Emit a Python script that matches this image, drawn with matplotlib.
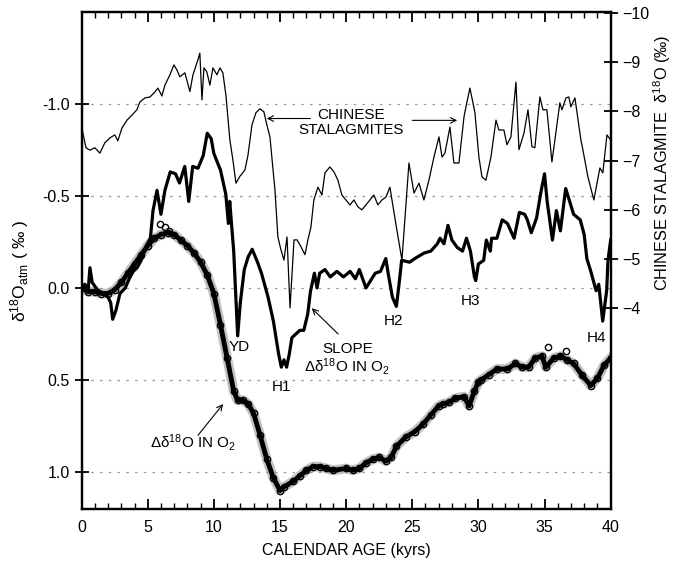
import matplotlib.pyplot as plt
import numpy as np

plt.rcParams['font.family'] = ['Liberation Sans', 'DejaVu Sans']
plt.rcParams['mathtext.fontset'] = 'custom'
plt.rcParams['mathtext.rm'] = 'Liberation Sans'
plt.rcParams['mathtext.it'] = 'Liberation Sans:italic'
plt.rcParams['mathtext.bf'] = 'Liberation Sans:bold'

# Chinese stalagmite d18O (right axis, permil)
stal_age = [0.0, 0.33, 0.63, 1.0, 1.38, 1.76, 2.14, 2.51, 2.74, 3.05, 3.43, 3.80, 4.18, 4.41,
            4.79, 5.17, 5.54, 5.77, 6.07, 6.30, 6.68, 6.98, 7.20, 7.43, 7.81, 8.19, 8.42, 8.79,
            8.94, 9.10, 9.25, 9.47, 9.70, 9.93, 10.23, 10.46, 10.68, 10.91, 11.21, 11.44, 11.67,
            11.97, 12.35, 12.58, 12.88, 13.18, 13.48, 13.78, 14.01, 14.24, 14.62, 14.84, 15.07,
            15.30, 15.53, 15.76, 16.06, 16.29, 16.51, 16.89, 17.11, 17.34, 17.56, 17.87, 18.17,
            18.40, 18.77, 19.08, 19.38, 19.68, 19.98, 20.29, 20.59, 20.89, 21.19, 21.50, 21.80,
            22.10, 22.40, 22.71, 23.01, 23.31, 23.77, 24.22, 24.75, 25.13, 25.51, 25.88, 26.26,
            26.64, 27.02, 27.25, 27.47, 27.85, 28.15, 28.53, 28.91, 29.06, 29.36, 29.74, 30.04,
            30.27, 30.57, 30.95, 31.33, 31.55, 31.93, 32.16, 32.46, 32.84, 33.07, 33.45, 33.75,
            34.05, 34.27, 34.65, 34.88, 35.18, 35.56, 36.16, 36.32, 36.62, 36.84, 36.99, 37.30,
            37.75, 37.90, 38.28, 38.73, 39.19, 39.41, 39.72, 40.0]
stal_d18o = [-7.68, -7.26, -7.21, -7.26, -7.15, -7.36, -7.46, -7.52, -7.40, -7.66, -7.82, -7.92,
             -8.03, -8.19, -8.27, -8.29, -8.39, -8.47, -8.31, -8.53, -8.74, -8.94, -8.84, -8.70,
             -8.78, -8.40, -8.74, -9.04, -9.18, -8.23, -8.88, -8.80, -8.53, -8.88, -8.74, -8.88,
             -8.78, -8.33, -7.42, -7.01, -6.54, -6.68, -6.81, -7.11, -7.72, -7.97, -8.05, -7.99,
             -7.72, -7.48, -6.40, -5.45, -5.19, -4.98, -5.45, -4.01, -5.39, -5.39, -5.29, -5.09,
             -5.39, -5.65, -6.20, -6.46, -6.30, -6.75, -6.87, -6.77, -6.60, -6.30, -6.20, -6.10,
             -6.20, -6.06, -6.00, -6.10, -6.20, -6.30, -6.10, -6.20, -6.26, -6.46, -5.70, -4.98,
             -6.95, -6.34, -6.54, -6.20, -6.60, -7.07, -7.48, -7.07, -7.15, -7.68, -6.95, -6.95,
             -7.88, -8.09, -8.47, -7.97, -7.07, -6.67, -6.60, -7.07, -7.82, -7.62, -7.62, -7.32,
             -7.48, -8.59, -7.22, -7.56, -8.03, -7.28, -7.26, -8.29, -8.03, -8.03, -6.97, -8.17,
             -8.03, -8.27, -8.29, -8.09, -8.27, -7.42, -7.22, -6.67, -6.20, -6.85, -6.75, -7.52,
             -7.42]

# slope of delta d18O in O2 (left axis)
slope_age = [0.0, 0.25, 0.5, 0.63, 0.8, 1.2, 1.6, 2.0, 2.2, 2.35, 2.6, 2.9, 3.3, 3.6, 3.9, 4.2,
             4.5, 4.9, 5.2, 5.4, 5.7, 6.0, 6.3, 6.7, 7.1, 7.4, 7.8, 8.1, 8.4, 8.8, 9.2, 9.5, 9.8,
             10.0, 10.5, 10.9, 11.1, 11.2, 11.5, 11.8, 12.0, 12.3, 12.6, 12.9, 13.3, 13.6, 14.1,
             14.5, 14.9, 15.1, 15.3, 15.5, 15.7, 15.9, 16.2, 16.5, 16.8, 17.1, 17.3, 17.6, 17.8,
             18.0, 18.4, 18.8, 19.3, 19.8, 20.3, 20.7, 21.0, 21.5, 22.2, 22.6, 23.0, 23.2, 23.5,
             23.8, 24.0, 24.2, 24.8, 25.2, 25.9, 26.4, 26.9, 27.1, 27.4, 27.7, 28.0, 28.4, 28.8,
             29.1, 29.4, 29.7, 29.8, 30.0, 30.4, 30.6, 30.9, 31.0, 31.4, 31.8, 32.2, 32.7, 33.1,
             33.5, 33.7, 34.0, 34.4, 34.7, 35.0, 35.2, 35.6, 35.9, 36.2, 36.6, 36.9, 37.2, 37.7,
             38.0, 38.2, 38.5, 38.9, 39.1, 39.4, 39.7, 39.8, 40.0]
slope_val = [0.0, -0.02, 0.01, -0.11, -0.03, 0.01, 0.03, 0.05, 0.08, 0.17, 0.12, 0.03, 0.0,
             -0.05, -0.09, -0.11, -0.15, -0.23, -0.27, -0.42, -0.53, -0.40, -0.53, -0.63, -0.62,
             -0.57, -0.66, -0.47, -0.66, -0.65, -0.72, -0.84, -0.81, -0.73, -0.64, -0.51, -0.35,
             -0.47, -0.20, 0.26, 0.08, -0.10, -0.17, -0.21, -0.14, -0.08, 0.05, 0.18, 0.36, 0.43,
             0.39, 0.43, 0.36, 0.27, 0.25, 0.23, 0.23, 0.14, 0.02, -0.08, 0.0, -0.08, -0.10, -0.06,
             -0.09, -0.06, -0.09, -0.05, -0.10, 0.0, -0.08, -0.09, -0.16, -0.07, 0.05, 0.10, -0.02,
             -0.15, -0.14, -0.16, -0.19, -0.20, -0.24, -0.27, -0.24, -0.34, -0.26, -0.22, -0.20,
             -0.27, -0.20, -0.06, -0.04, -0.13, -0.15, -0.26, -0.20, -0.27, -0.27, -0.37, -0.35,
             -0.27, -0.41, -0.40, -0.37, -0.30, -0.38, -0.51, -0.62, -0.47, -0.26, -0.42, -0.31,
             -0.54, -0.47, -0.40, -0.37, -0.29, -0.16, -0.09, 0.015, -0.02, 0.18, 0.015, -0.15,
             -0.26]

# delta d18O in O2 (left axis, circles)
o2_age = [0.0, 0.5, 1.0, 1.5, 2.0, 2.5, 3.0, 3.5, 4.0, 4.5, 5.0, 5.5, 6.0, 6.5, 7.0, 7.5, 8.0,
          8.5, 9.0, 9.5, 10.0, 10.5, 11.0, 11.5, 11.8, 12.2, 12.6, 13.0, 13.5, 14.0, 14.5, 15.0,
          15.3, 16.0, 16.5, 17.0, 17.5, 18.0, 18.5, 19.0, 20.0, 20.5, 21.0, 21.5, 22.0, 22.5,
          23.0, 23.4, 23.8, 24.5, 25.2, 25.8, 26.4, 27.0, 27.3, 27.8, 28.2, 28.9, 29.3, 29.7,
          30.0, 30.2, 30.8, 31.4, 32.2, 32.8, 33.3, 33.8, 34.3, 34.8, 35.1, 35.7, 36.2, 36.7,
          37.2, 37.8, 38.5, 39.0, 39.5, 40.0]
o2_val = [0.0, 0.02, 0.02, 0.03, 0.03, 0.01, -0.03, -0.08, -0.13, -0.18, -0.23, -0.27, -0.29,
          -0.30, -0.29, -0.26, -0.23, -0.19, -0.14, -0.07, 0.03, 0.20, 0.38, 0.56, 0.61, 0.61,
          0.63, 0.68, 0.80, 0.93, 1.03, 1.10, 1.08, 1.05, 1.02, 0.99, 0.97, 0.97, 0.98, 0.99,
          0.98, 0.99, 0.98, 0.95, 0.93, 0.92, 0.94, 0.92, 0.86, 0.81, 0.78, 0.74, 0.69, 0.64,
          0.63, 0.62, 0.60, 0.59, 0.64, 0.56, 0.51, 0.50, 0.47, 0.44, 0.44, 0.41, 0.43, 0.43,
          0.38, 0.37, 0.43, 0.38, 0.37, 0.39, 0.41, 0.47, 0.53, 0.49, 0.42, 0.38]
o2_extra_age = [5.9, 6.3, 6.6, 35.3, 36.6]
o2_extra_val = [-0.35, -0.33, -0.31, 0.32, 0.34]

fig = plt.figure(figsize=(6.8, 5.62), dpi=100)
ax = fig.add_axes([0.120, 0.0943, 0.778, 0.8849])

for yv in [-1.0, -0.5, 0.0, 0.5, 1.0]:
    ax.axhline(yv, color='0.6', lw=0.9, ls=(0, (2, 5)), zorder=0)

ax.plot(o2_age, o2_val, color='0.6', lw=7, alpha=0.6, zorder=2)
ax.plot(o2_age, o2_val, color='k', lw=3.5, zorder=3)
ax.plot(o2_age, o2_val, 'o', ms=4.5, mfc='none', mec='k', mew=1.0, zorder=4)
ax.plot(o2_extra_age, o2_extra_val, 'o', ms=4.5, mfc='none', mec='k', mew=1.0, zorder=4)
ax.plot(slope_age, slope_val, color='k', lw=2.3, zorder=5)

ax.set_xlim(0, 40)
ax.set_ylim(1.2, -1.5)
ax.set_xticks(np.arange(0, 41, 5))
ax.set_xticks(np.arange(0, 41, 1), minor=True)
ax.set_yticks([-1.0, -0.5, 0.0, 0.5, 1.0])
ax.set_yticklabels(['-1.0', '-0.5', '0.0', '0.5', '1.0'])
ax.tick_params(axis='x', which='major', direction='in', length=7, width=1.3, top=True,
               labelsize=11.5, pad=8)
ax.tick_params(axis='x', which='minor', direction='in', length=4, width=1.0, top=True)
ax.tick_params(axis='y', direction='inout', length=10, width=1.3, labelsize=11.5, right=False)
for s in ax.spines.values():
    s.set_linewidth(1.6)

ax.set_xlabel('CALENDAR AGE (kyrs)', fontsize=11.5, labelpad=6)
ax.set_ylabel(r'δ$^{18}$O$_{\mathrm{atm}}$ ( ‰ )', fontsize=12.5)
ax.yaxis.set_label_coords(-0.096, 0.48)

ax2 = ax.twinx()
ax2.plot(stal_age, stal_d18o, color='k', lw=0.9, zorder=3)
ax2.set_ylim(0.07, -10.02)
ax2.set_yticks([-10, -9, -8, -7, -6, -5, -4])
ax2.tick_params(axis='y', direction='inout', length=10, width=1.3, labelsize=11.5)
for s in ax2.spines.values():
    s.set_linewidth(1.6)
ax2.set_ylabel(r'CHINESE STALAGMITE  δ$^{18}$O (‰)', fontsize=11.7, rotation=90)
ax2.yaxis.set_label_coords(1.076, 0.696)

arrow = dict(arrowstyle='->', lw=0.8, color='k', shrinkA=0, shrinkB=0)
ax.text(20.4, -0.9, 'CHINESE\nSTALAGMITES', ha='center', va='center', fontsize=11,
        linespacing=1.1)
ax.annotate('', xy=(14.0, -0.92), xytext=(17.3, -0.92), arrowprops=arrow)
ax.annotate('', xy=(28.4, -0.91), xytext=(25.0, -0.91), arrowprops=arrow)
ax.text(11.9, 0.32, 'YD', ha='center', va='center', fontsize=11)
ax.text(15.1, 0.54, 'H1', ha='center', va='center', fontsize=11)
ax.text(23.6, 0.18, 'H2', ha='center', va='center', fontsize=11)
ax.text(29.4, 0.07, 'H3', ha='center', va='center', fontsize=11)
ax.text(38.9, 0.27, 'H4', ha='center', va='center', fontsize=11)
ax.text(20.1, 0.39, 'SLOPE\n' + r'Δδ$^{18}$O IN O$_2$', ha='center', va='center',
        fontsize=11, linespacing=1.0)
ax.annotate('', xy=(17.4, 0.11), xytext=(19.4, 0.25), arrowprops=arrow)
ax.text(8.4, 0.84, r'Δδ$^{18}$O IN O$_2$', ha='center', va='center', fontsize=11)
ax.annotate('', xy=(10.7, 0.63), xytext=(8.8, 0.80), arrowprops=arrow)

fig.savefig('out.png', dpi=100)
